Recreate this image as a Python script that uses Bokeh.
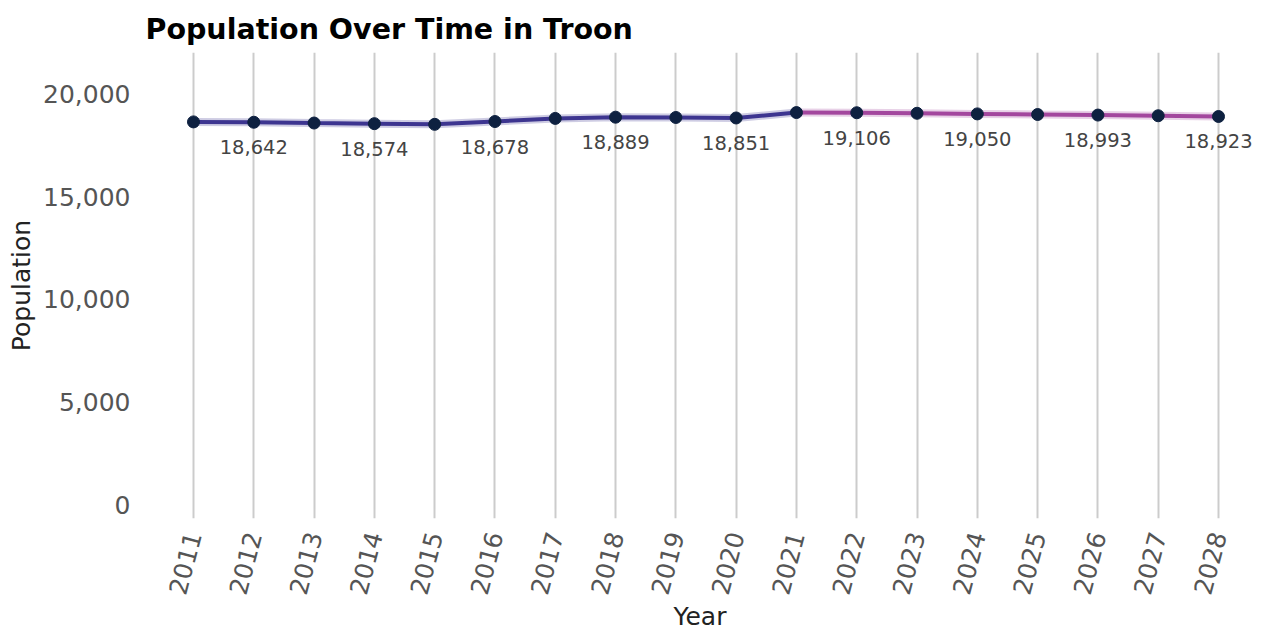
import math

from bokeh.plotting import figure
from bokeh.models import FixedTicker, NumeralTickFormatter, Range1d
from bokeh.core.properties import value
from bokeh.embed import file_html
from bokeh.resources import INLINE

years = [2011, 2012, 2013, 2014, 2015, 2016, 2017, 2018, 2019,
         2020, 2021, 2022, 2023, 2024, 2025, 2026, 2027, 2028]
population = [18660, 18642, 18605, 18574, 18540, 18678, 18830, 18889, 18875,
              18851, 19115, 19106, 19080, 19050, 19020, 18993, 18960, 18923]

# estimates split: history up to 2021, projection from 2021 on
split = years.index(2021)
hist_years, hist_pop = years[:split + 1], population[:split + 1]
proj_years, proj_pop = years[split:], population[split:]

# only every second year gets a value label
label_years = years[1::2]
label_pop = population[1::2]
label_text = [f"{v:,}" for v in label_pop]

y_ticks = [0, 5000, 10000, 15000, 20000]

FONT = "DejaVu Sans"

p = figure(width=1264, height=633, output_backend="svg", toolbar_location=None,
           x_range=Range1d(2010.204, 2028.597), y_range=Range1d(-681, 22044),
           min_border_left=145, min_border_right=10, min_border_top=52,
           min_border_bottom=111)

p.title.text = "Population Over Time in Troon"
p.title.text_font = FONT
p.title.text_font_size = "28.5px"
p.title.text_font_style = "bold"
p.title.text_color = "#000000"
p.title.align = "left"
p.title.offset = 0
p.title.standoff = 14

p.outline_line_color = None
p.background_fill_color = "white"
p.border_fill_color = "white"

p.ygrid.grid_line_color = None
p.xgrid.grid_line_color = "#cccccc"
p.xgrid.grid_line_width = 2

p.xaxis.ticker = FixedTicker(ticks=years)
p.yaxis.ticker = FixedTicker(ticks=y_ticks)
p.yaxis.formatter = NumeralTickFormatter(format="0,0")

for ax in (p.xaxis, p.yaxis):
    ax.axis_line_color = None
    ax.major_tick_line_color = None
    ax.minor_tick_line_color = None
    ax.major_label_text_font = FONT
    ax.major_label_text_font_size = "25px"
    ax.major_label_text_color = "#555555"
    ax.axis_label_text_font = FONT
    ax.axis_label_text_font_size = "25px"
    ax.axis_label_text_font_style = "normal"
    ax.axis_label_text_color = "#222222"

p.xaxis.axis_label = "Year"
p.yaxis.axis_label = "Population"
p.xaxis.major_label_orientation = math.radians(75)
p.xaxis.major_label_standoff = 8
p.xaxis.axis_label_standoff = 0
p.yaxis.major_label_standoff = 9
p.yaxis.axis_label_standoff = 4

# soft halo under each segment, then the line itself
p.line(hist_years, hist_pop, line_color="#3d3590", line_width=8, line_alpha=0.25)
p.line(proj_years, proj_pop, line_color="#a3479e", line_width=8, line_alpha=0.25)
p.line(hist_years, hist_pop, line_color="#3d3590", line_width=4)
p.line(proj_years, proj_pop, line_color="#a3479e", line_width=4)
p.scatter(years, population, size=12, fill_color="#0e2140", line_color="#0e2140")

p.text(label_years, label_pop, text=label_text, text_font=value(FONT),
       text_font_size="19.5px", text_color="#444444", text_align="center",
       text_baseline="middle", y_offset=25)

open("out.html", "w").write(file_html(p, INLINE))
